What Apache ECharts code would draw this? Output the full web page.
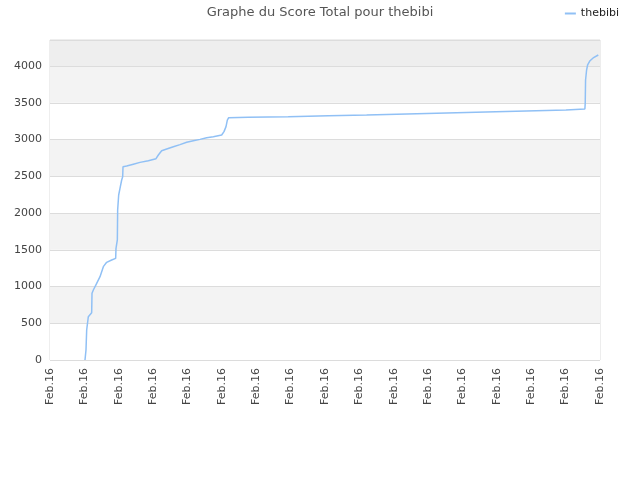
<!DOCTYPE html>
<html>
<head>
<meta charset="utf-8">
<script src="https://cdn.jsdelivr.net/npm/echarts@6/dist/echarts.min.js"></script>
<style>html,body{margin:0;padding:0;background:#fff}#c{width:640px;height:480px}</style>
</head>
<body>
<div id="c"></div>
<script>
// x position (in tick units along the axis) and total score
var xPos = [1.018,1.047,1.067,1.115,1.144,1.212,1.222,1.261,1.358,1.455,1.552,1.648,1.794,1.910,1.920,1.959,1.968,1.998,2.036,2.085,2.114,2.124,2.230,2.424,2.618,2.861,3.084,3.152,3.248,3.394,3.588,3.782,3.976,4.170,4.364,4.558,4.752,4.994,5.062,5.120,5.159,5.198,5.77,5.771,6.93,6.931,8.10,8.101,9.21,9.211,10.38,10.381,11.54,11.541,12.68,12.681,13.85,13.851,15.01,15.011,15.56,15.57,15.58,15.61,15.64,15.71,15.80,15.95];
var scores = [0,136,408,589,600,644,907,952,1043,1134,1270,1329,1361,1383,1519,1633,2041,2245,2336,2449,2494,2630,2639,2664,2689,2712,2739,2789,2848,2871,2902,2930,2962,2984,3002,3025,3039,3061,3107,3175,3265,3297,3302,3311,3311,3325,3325,3333,3333,3347,3347,3361,3361,3374,3374,3388,3388,3401,3401,3415,3415,3492,3810,3946,4014,4072,4110,4150];
var tickLabels = ['Feb.16','Feb.16','Feb.16','Feb.16','Feb.16','Feb.16','Feb.16','Feb.16','Feb.16','Feb.16','Feb.16','Feb.16','Feb.16','Feb.16','Feb.16','Feb.16','Feb.16'];
var seriesName = 'thebibi';
var titleText = 'Graphe du Score Total pour thebibi';

var data = xPos.map(function(x,i){return [x, scores[i]];});
var chart = echarts.init(document.getElementById('c'));
chart.setOption({
  animation: false,
  textStyle: {fontFamily: 'DejaVu Sans'},
  title: {text: titleText, left: 'center', top: 1,
    textStyle: {fontSize: 13, fontWeight: 'normal', color: '#555', fontFamily: 'DejaVu Sans'}},
  legend: {data: [seriesName], right: 16, top: 3, itemWidth: 11, itemHeight: 2,
    itemGap: 8, icon: 'rect',
    textStyle: {fontSize: 11, color: '#222', fontFamily: 'DejaVu Sans'}},
  grid: {left: 50, right: 40, top: 40, bottom: 120, show: true, borderColor: '#dcdcdc', borderWidth: 1},
  xAxis: {type: 'value', min: 0, max: 16, interval: 1,
    axisLine: {show: false}, axisTick: {show: false}, splitLine: {show: false},
    axisLabel: {rotate: 90, fontSize: 11, color: '#444', margin: 8,
      formatter: function(v){return tickLabels[Math.round(v)] || '';}}},
  yAxis: {type: 'value', min: 0, max: 4354, interval: 500,
    axisLine: {show: false}, axisTick: {show: false},
    axisLabel: {fontSize: 11, color: '#444', margin: 8,
      formatter: function(v){return v % 500 === 0 ? v : '';}},
    splitLine: {show: true, lineStyle: {color: '#dcdcdc', width: 1}},
    splitArea: {show: true, areaStyle: {color: ['#ffffff','#f3f3f3','#ffffff','#f3f3f3','#ffffff','#f3f3f3','#ffffff','#f3f3f3','#eeeeee']}}},
  series: [{name: seriesName, type: 'line', data: data, showSymbol: false,
    lineStyle: {color: '#90c0f5', width: 1.5}, itemStyle: {color: '#90c0f5'}}]
});
</script>
</body>
</html>
